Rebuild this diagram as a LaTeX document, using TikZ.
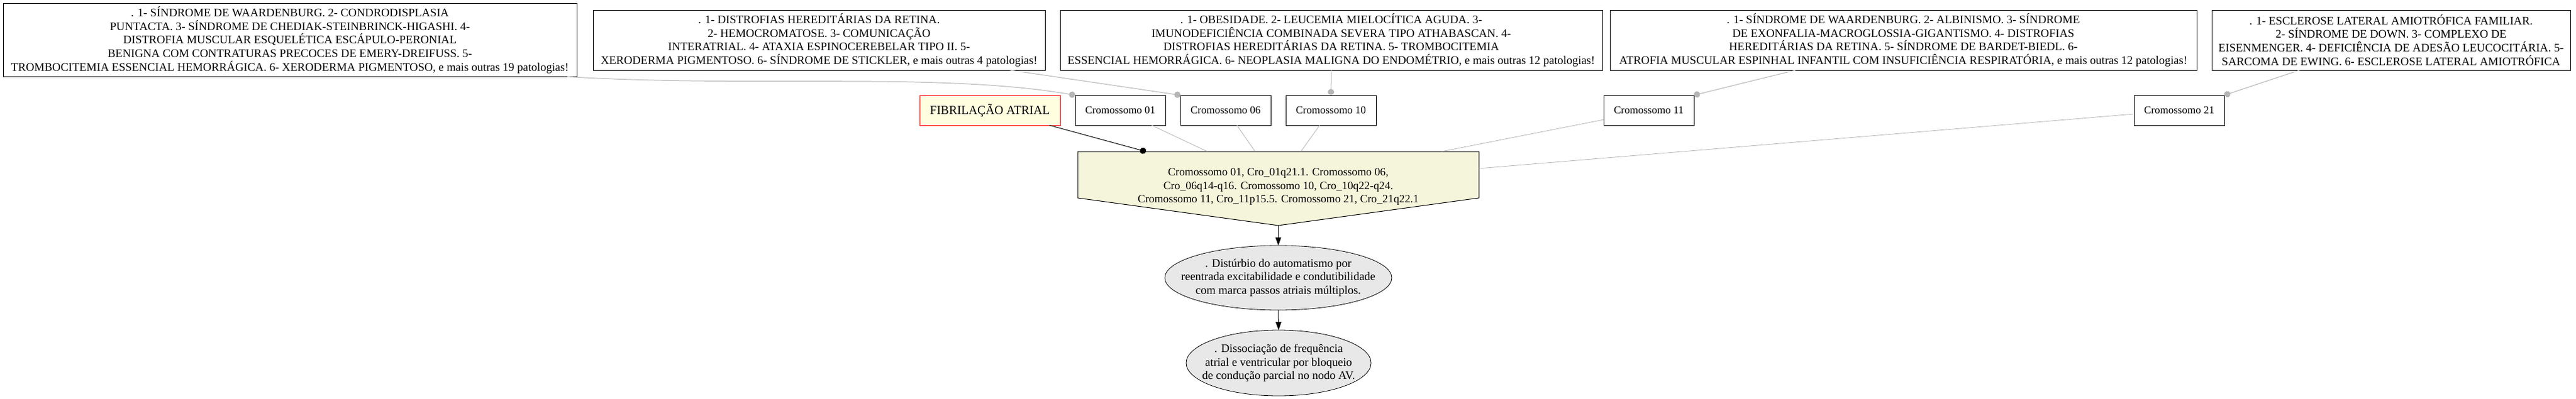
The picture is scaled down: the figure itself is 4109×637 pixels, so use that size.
\documentclass[tikz,border=0pt]{standalone}
\usepackage{fontspec}
\setmainfont{Liberation Serif}
\usetikzlibrary{arrows.meta,shapes.geometric}
\definecolor{ligacao}{HTML}{B4B4B4}
\definecolor{bege}{HTML}{F5F5DC}
\definecolor{amarelo}{HTML}{FFFFE0}
\definecolor{cinza}{HTML}{E8E8E8}
\newcommand{\fonte}{\fontsize{18.5}{21.7}\selectfont}
\newcommand{\fontecro}{\fontsize{17}{20}\selectfont}
\tikzset{
  doenca/.style={draw, fill=white, line width=1pt, align=center, inner sep=0pt, outer sep=0pt, minimum height=96pt, font=\fonte},
  cromo/.style={draw, fill=white, line width=1pt, inner sep=0pt, outer sep=0pt, minimum width=144pt, minimum height=48pt, font=\fontecro},
  mecanismo/.style={ellipse, draw, fill=cinza, line width=0.8pt, align=center, inner xsep=-30pt, inner ysep=0pt, outer sep=0pt, font=\fonte},
  liga/.style={draw=ligacao, line width=1pt, -{Circle[length=10pt]}},
  ligapreta/.style={draw=black, line width=1pt, -{Circle[length=10pt]}},
  fino/.style={draw=ligacao, line width=0.8pt},
  seta/.style={draw=black, line width=1pt, -{Triangle[length=13pt,width=9pt]}}
}
\begin{document}
\begin{tikzpicture}[x=1pt,y=-1pt]
    \useasboundingbox (0,0) rectangle (4109,637);
    \node[doenca, minimum width=915pt, minimum height=117pt] (sind1) at (462.5,64) {. 1- SÍNDROME DE WAARDENBURG. 2- CONDRODISPLASIA\\PUNTACTA. 3- SÍNDROME DE CHEDIAK-STEINBRINCK-HIGASHI. 4-\\DISTROFIA MUSCULAR ESQUELÉTICA ESCÁPULO-PERONIAL\\BENIGNA COM CONTRATURAS PRECOCES DE EMERY-DREIFUSS. 5-\\TROMBOCITEMIA ESSENCIAL HEMORRÁGICA. 6- XERODERMA PIGMENTOSO, e mais outras 19 patologias!};
    \node[doenca, minimum width=721pt] (sind2) at (1306.5,64) {. 1- DISTROFIAS HEREDITÁRIAS DA RETINA.\\2- HEMOCROMATOSE. 3- COMUNICAÇÃO\\INTERATRIAL. 4- ATAXIA ESPINOCEREBELAR TIPO II. 5-\\XERODERMA PIGMENTOSO. 6- SÍNDROME DE STICKLER, e mais outras 4 patologias!};
    \node[doenca, minimum width=865pt] (sind3) at (2123.5,64) {. 1- OBESIDADE. 2- LEUCEMIA MIELOCÍTICA AGUDA. 3-\\IMUNODEFICIÊNCIA COMBINADA SEVERA TIPO ATHABASCAN. 4-\\DISTROFIAS HEREDITÁRIAS DA RETINA. 5- TROMBOCITEMIA\\ESSENCIAL HEMORRÁGICA. 6- NEOPLASIA MALIGNA DO ENDOMÉTRIO, e mais outras 12 patologias!};
    \node[doenca, minimum width=936pt] (sind4) at (3036,64) {. 1- SÍNDROME DE WAARDENBURG. 2- ALBINISMO. 3- SÍNDROME\\DE EXONFALIA-MACROGLOSSIA-GIGANTISMO. 4- DISTROFIAS\\HEREDITÁRIAS DA RETINA. 5- SÍNDROME DE BARDET-BIEDL. 6-\\ATROFIA MUSCULAR ESPINHAL INFANTIL COM INSUFICIÊNCIA RESPIRATÓRIA, e mais outras 12 patologias!};
    \node[doenca, minimum width=572pt] (sind5) at (3814,64) {. 1- ESCLEROSE LATERAL AMIOTRÓFICA FAMILIAR.\\2- SÍNDROME DE DOWN. 3- COMPLEXO DE\\EISENMENGER. 4- DEFICIÊNCIA DE ADESÃO LEUCOCITÁRIA. 5-\\SARCOMA DE EWING. 6- ESCLEROSE LATERAL AMIOTRÓFICA};

    \node[cromo, draw=red, fill=amarelo, minimum width=224pt, font=\fontsize{19.5}{22}\selectfont] (fib) at (1579,176) {FIBRILAÇÃO ATRIAL};
    \node[cromo] (c01) at (1787,176) {Cromossomo 01};
    \node[cromo] (c06) at (1955,176) {Cromossomo 06};
    \node[cromo] (c10) at (2123,176) {Cromossomo 10};
    \node[cromo] (c11) at (2630,176) {Cromossomo 11};
    \node[cromo] (c21) at (3476,176) {Cromossomo 21};

    \node[inner sep=0pt, outer sep=0pt, minimum width=640pt, minimum height=118pt] (cromos) at (2039,301) {};
    \draw[fill=bege, line width=1pt] (cromos.north west) -- (cromos.north east) -- ([yshift=-74pt]cromos.north east) -- (cromos.south) -- ([yshift=-74pt]cromos.north west) -- cycle;
    \node[align=center, font=\fontsize{17.8}{21.7}\selectfont] (cromostxt) at ([yshift=3pt]cromos.center) {Cromossomo 01, Cro\_01q21.1. Cromossomo 06,\\Cro\_06q14-q16. Cromossomo 10, Cro\_10q22-q24.\\Cromossomo 11, Cro\_11p15.5. Cromossomo 21, Cro\_21q22.1};

    \node[mecanismo, minimum width=362pt, minimum height=103pt] (disturbio) at (2039,443.5) {. Distúrbio do automatismo por\\reentrada excitabilidade e condutibilidade\\com marca passos atriais múltiplos.};
    \node[mecanismo, minimum width=295pt, minimum height=105pt] (dissociacao) at (2039.5,579.5) {. Dissociação de frequência\\atrial e ventricular por bloqueio\\de condução parcial no nodo AV.};

    \draw[liga] ([xshift=-15pt]sind1.south east) .. controls (1200,140) and (1500,115) .. (c01.north west);
    \draw[liga] ([xshift=305pt]sind2.south) -- (c06.north west);
    \draw[liga] (sind3.south) -- (c10.north);
    \draw[liga] ([xshift=-172pt]sind4.south) -- (c11.north east);
    \draw[liga] ([xshift=-146pt]sind5.south) -- (c21.north east);

    \draw[fino] ([xshift=50pt]c01.south) -- ([xshift=-113pt]cromos.north);
    \draw[fino] ([xshift=18pt]c06.south) -- ([xshift=-37pt]cromos.north);
    \draw[fino] ([xshift=-18pt]c10.south) -- ([xshift=36pt]cromos.north);
    \draw[fino] ([yshift=-15pt]c11.west) -- ([xshift=260pt]cromos.north);
    \draw[fino] ([yshift=-6pt]c21.west) -- ([yshift=-27pt]cromos.north east);
    \draw[ligapreta] ([xshift=95pt]fib.south) -- ([xshift=-211pt]cromos.north);

    \draw[seta] (cromos.south) -- (disturbio.north);
    \draw[seta] (disturbio.south) -- (dissociacao.north);
\end{tikzpicture}
\end{document}
